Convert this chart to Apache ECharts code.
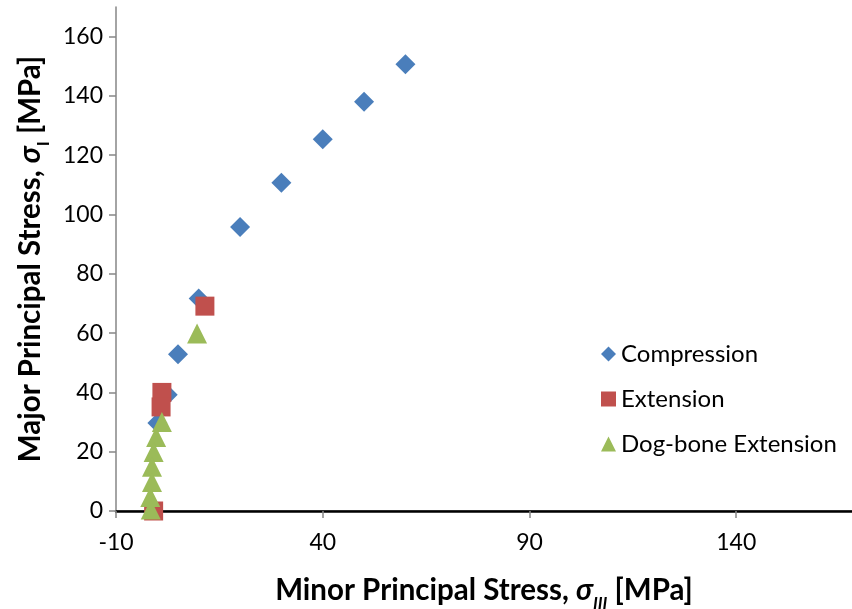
<!DOCTYPE html>
<html>
<head>
<meta charset="utf-8">
<script src="https://cdn.jsdelivr.net/npm/echarts@6/dist/echarts.min.js"></script>
<style>
html,body{margin:0;padding:0;background:#fff;}
#chart{width:852px;height:609px;}
</style>
</head>
<body>
<div id="chart"></div>
<script>
// Data: [minor principal stress, major principal stress] in MPa
const seriesNames = ['Compression', 'Extension', 'Dog-bone Extension'];
const compressionX = [60, 50, 40, 30, 20, 10, 5, 2.5, 0];
const compressionY = [150.7, 138.0, 125.4, 110.7, 95.8, 71.7, 52.9, 39.2, 29.7];
const extensionX = [11.5, 1.1, 0.9, -0.9];
const extensionY = [69.1, 40.0, 35.1, 0];
const dogboneX = [9.6, 1.1, -0.3, -0.9, -1.3, -1.3, -1.7, -1.6];
const dogboneY = [59.9, 30.0, 25.0, 19.9, 14.9, 9.8, 4.7, 0.5];
const xTicks = [-10, 40, 90, 140];
const yTicks = [0, 20, 40, 60, 80, 100, 120, 140, 160];

const zip = (xs, ys) => xs.map((x, i) => [x, ys[i]]);
const FONT = 'Lato';
const chart = echarts.init(document.getElementById('chart'), null, {renderer: 'canvas'});

const titleRich = {
  b: {fontFamily: FONT, fontWeight: 'bold', fontSize: 29.5, color: '#000', lineHeight: 38},
  s: {fontFamily: FONT, fontWeight: 'bold', fontStyle: 'italic', fontSize: 29.5, color: '#000', lineHeight: 38},
  sub: {fontFamily: FONT, fontWeight: 'bold', fontStyle: 'italic', fontSize: 17, color: '#000', lineHeight: 38, verticalAlign: 'bottom', padding: [0, 0, -3, 0]},
  subn: {fontFamily: FONT, fontWeight: 'bold', fontSize: 17, color: '#000', lineHeight: 38, verticalAlign: 'bottom', padding: [0, 0, -3, 0]}
};

const option = {
  backgroundColor: '#ffffff',
  animation: false,
  grid: {left: 116, top: 7, right: 0, bottom: 98, containLabel: false, outerBoundsMode: 'none'},
  legend: {
    orient: 'vertical',
    left: 596,
    top: 337,
    itemWidth: 15,
    itemHeight: 15,
    itemGap: 21,
    data: seriesNames,
    textStyle: {fontFamily: FONT, fontSize: 24, color: '#000', lineHeight: 24, padding: [0, 0, 0, 0]}
  },
  xAxis: [{
    type: 'value',
    min: -10,
    max: 168,
    interval: 50,
    splitLine: {show: false},
    axisLine: {show: true, onZero: false, lineStyle: {color: '#868686', width: 1.5}},
    axisTick: {show: true, length: 7, lineStyle: {color: '#868686', width: 1.5}},
    axisLabel: {
      margin: 20, color: '#000', fontFamily: FONT, fontSize: 23,
      showMaxLabel: false,
      formatter: v => (xTicks.indexOf(v) >= 0 ? String(v) : '')
    },
    name: '{b|Minor Principal Stress, }{s|σ}{sub|III}{b| [MPa]}',
    nameLocation: 'middle',
    nameGap: 60,
    nameTextStyle: {fontFamily: FONT, fontWeight: 'bold', fontSize: 29.5, color: '#000', rich: titleRich}
  }, {
    type: 'value',
    position: 'top',
    min: -10,
    max: 168,
    axisLine: {show: true, lineStyle: {color: '#000', width: 2.5}},
    axisTick: {show: false},
    axisLabel: {show: false},
    splitLine: {show: false}
  }],
  yAxis: {
    type: 'value',
    min: 0,
    max: 170,
    interval: 20,
    splitLine: {show: false},
    axisLine: {show: true, onZero: false, lineStyle: {color: '#868686', width: 1.5}},
    axisTick: {show: true, length: 7, lineStyle: {color: '#868686', width: 1.5}},
    axisLabel: {
      margin: 13, color: '#000', fontFamily: FONT, fontSize: 23,
      showMaxLabel: false,
      formatter: v => (yTicks.indexOf(v) >= 0 ? String(v) : '')
    },
    name: '{b|Major Principal Stress, }{s|σ}{subn|I}{b| [MPa]}',
    nameLocation: 'middle',
    nameGap: 64,
    nameTextStyle: {fontFamily: FONT, fontWeight: 'bold', fontSize: 29.5, color: '#000', rich: titleRich}
  },
  series: [{
    name: seriesNames[0],
    type: 'scatter',
    xAxisIndex: 0,
    symbol: 'diamond',
    symbolSize: 20,
    itemStyle: {color: '#4A7EBB', opacity: 1},
    data: zip(compressionX, compressionY),
    z: 2
  }, {
    name: seriesNames[1],
    type: 'scatter',
    xAxisIndex: 0,
    symbol: 'rect',
    symbolSize: 19,
    itemStyle: {color: '#C0504D', opacity: 1},
    data: zip(extensionX, extensionY),
    z: 3
  }, {
    name: seriesNames[2],
    type: 'scatter',
    xAxisIndex: 0,
    symbol: 'triangle',
    symbolSize: 20,
    itemStyle: {color: '#9BBB59', opacity: 1},
    data: zip(dogboneX, dogboneY),
    z: 4
  }]
};
chart.setOption(option);
</script>
</body>
</html>
